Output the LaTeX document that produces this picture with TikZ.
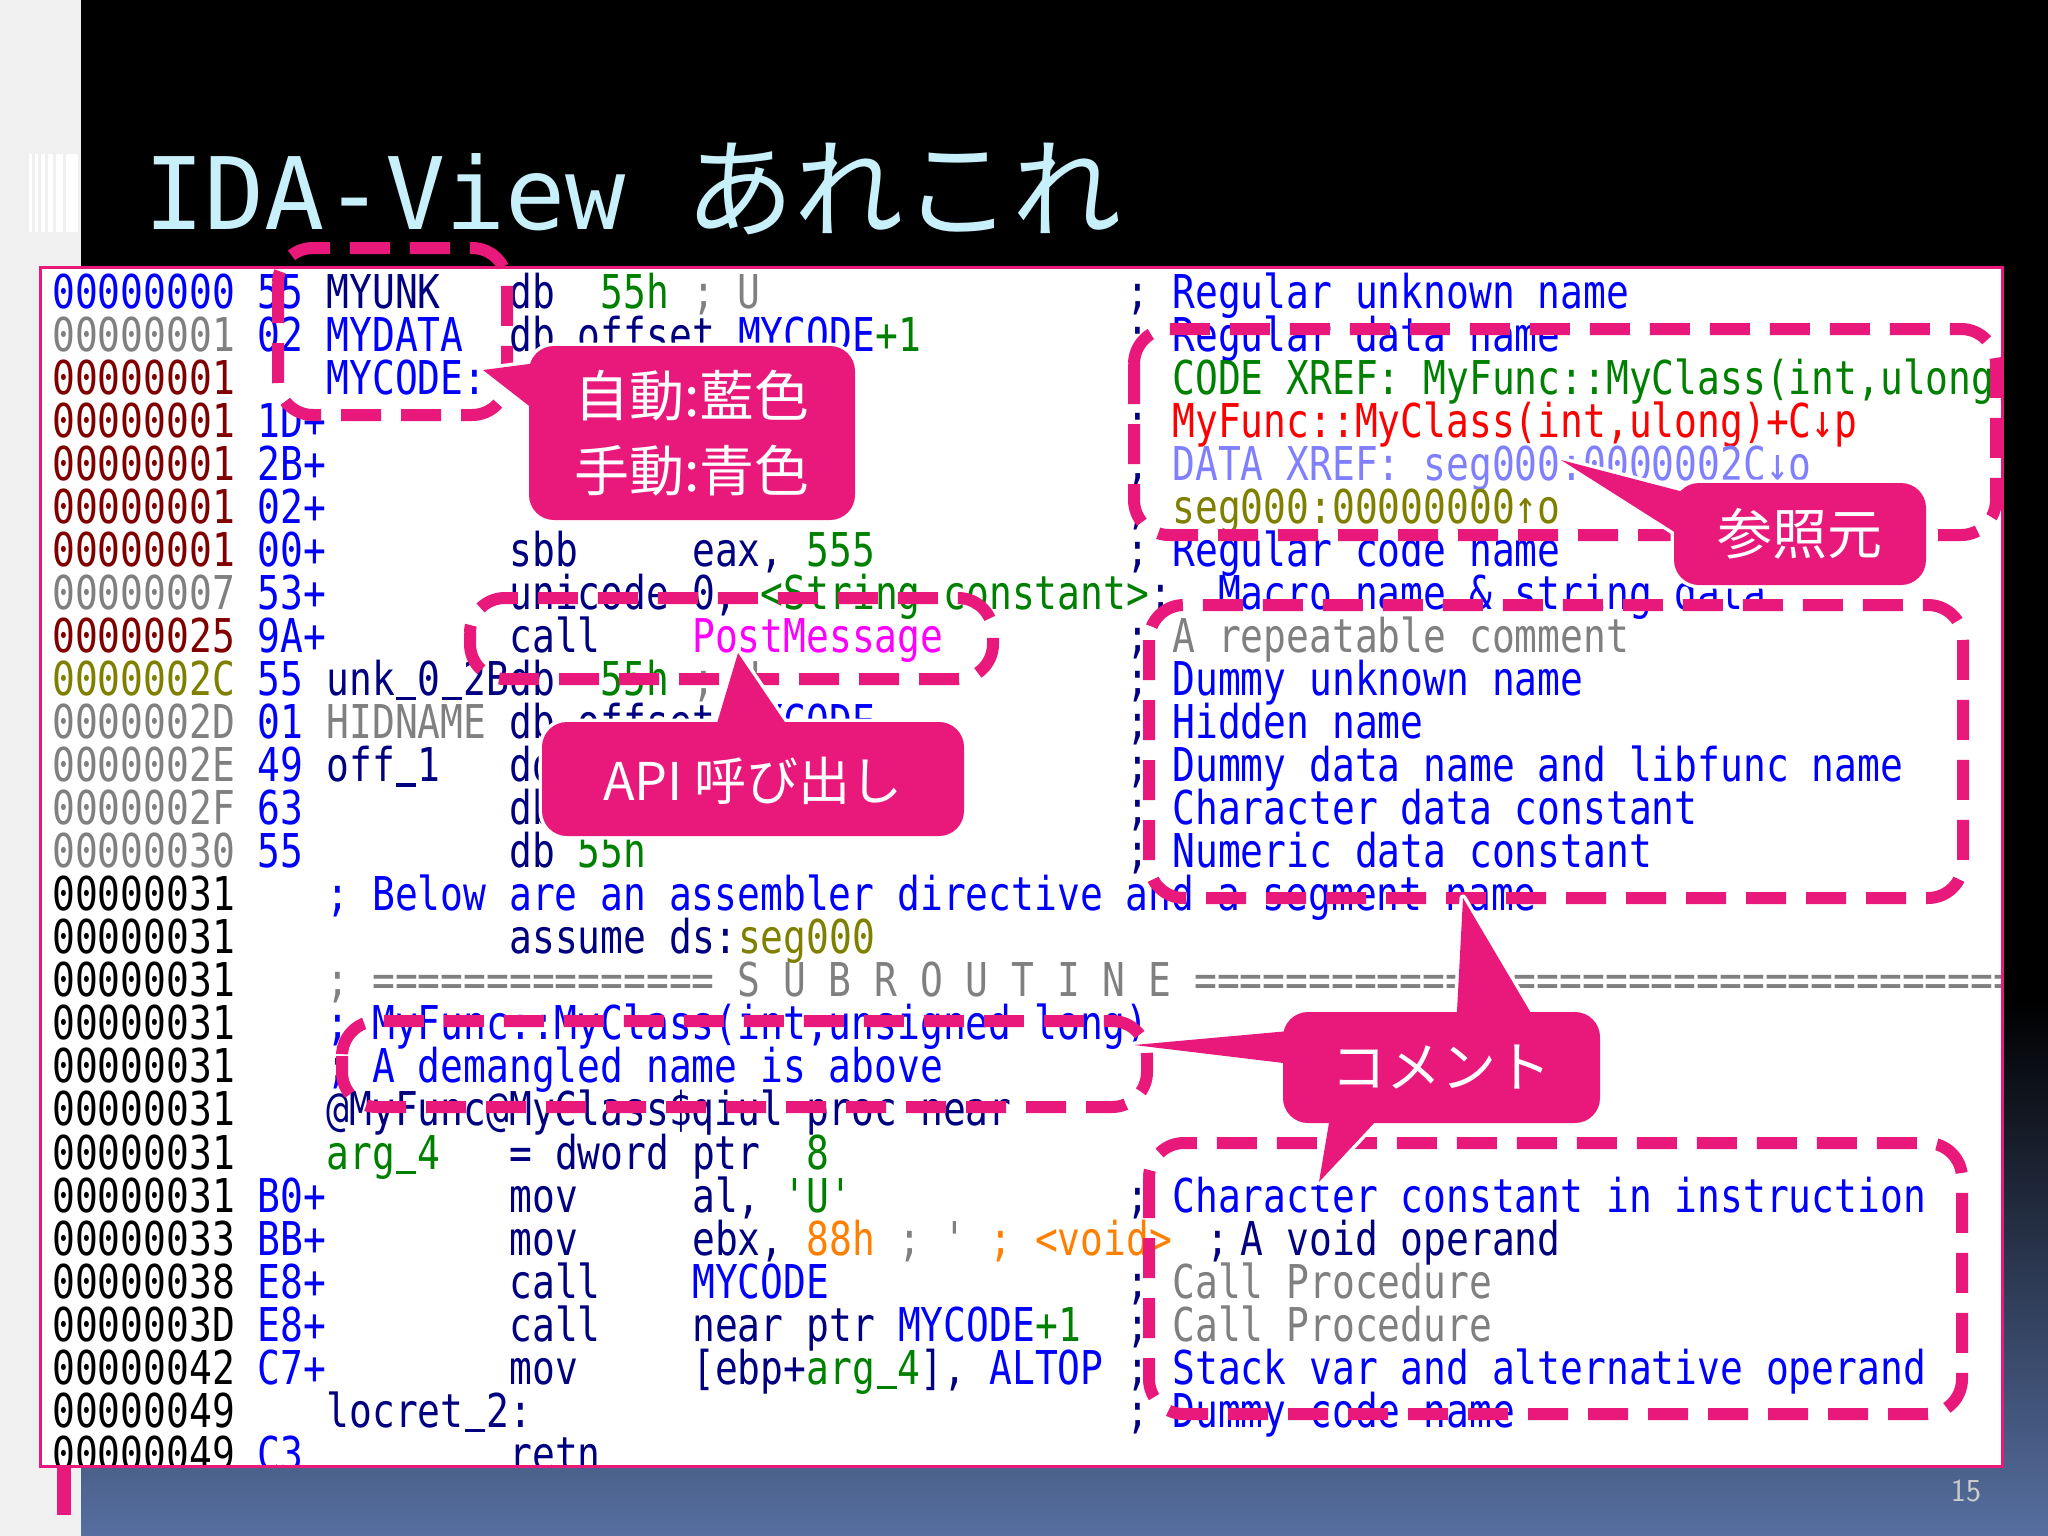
\documentclass[tikz,border=0pt]{standalone}
\usepackage{fontspec}
\newfontfamily\codefont[FakeStretch=0.814]{DejaVu Sans Mono}
\newfontfamily\monof{DejaVu Sans Mono}
\newfontfamily\jpf{Noto Sans CJK JP}
\definecolor{pk}{HTML}{E8197A}
\definecolor{ttl}{HTML}{C8F0FA}
\definecolor{cnavy}{HTML}{000080}
\definecolor{cblue}{HTML}{0000FF}
\definecolor{cgray}{HTML}{808080}
\definecolor{cred}{HTML}{800000}
\definecolor{colive}{HTML}{808000}
\definecolor{cgreen}{HTML}{008000}
\definecolor{cmag}{HTML}{FF00FF}
\definecolor{corange}{HTML}{FF8000}
\definecolor{cbred}{HTML}{FF0000}
\definecolor{cpurp}{HTML}{8080FF}
\definecolor{slate}{HTML}{566FA0}
\tikzset{
  code/.style={inner sep=0pt,anchor=base west,font=\codefont\fontsize{46.6}{50}\selectfont},
  dbox/.style={draw=pk,line width=12pt,dash pattern=on 40pt off 20pt,rounded corners=35pt},
  ctext/.style={text=white,font=\jpf\fontsize{55}{75}\selectfont,align=center,inner sep=0pt},
  coutl/.style={draw=white,line width=7pt,line join=round},
  cfill/.style={fill=pk}
}
\newcommand\cl[4]{\node[code,text=#3] at ({52+#1*22.86},{308+#2*43.05}) {#4};}
\newcommand\ap{\symbol{39}}
\newcommand\us{\makebox[22.86pt]{\rule[-5pt]{20pt}{3.5pt}}}
\begin{document}
\begin{tikzpicture}[x=1pt,y=-1pt]
\useasboundingbox (0,0) rectangle (2048,1536);
\fill[black] (0,0) rectangle (2048,1536);
\shade[top color=black,bottom color=slate] (0,1000) rectangle (2048,1536);
\fill[white!94!black] (0,0) rectangle (81,1536);
% icon
\foreach \x/\w in {29/3,35/3,41/4,48/5,56/7,66/12}{\fill[white] (\x,154) rectangle ({\x+\w},232);}
% title
\node[inner sep=0pt,anchor=base west,text=ttl] (title) at (144,229)
  {{\monof\fontsize{100}{100}\selectfont IDA-View}\hspace{60pt}{\jpf\fontsize{109}{109}\selectfont あれこれ}};
% panel
\node[draw=pk,line width=2.5pt,fill=white,minimum width=1962pt,minimum height=1199pt,anchor=north west,inner sep=0pt] (panel) at (39,266) {};
\fill[pk] (57,1465) rectangle (71,1515);
\node[text=white!80!black,font=\sffamily\fontsize{32}{32}\selectfont] (pnum) at (1966,1491) {15};
\begin{scope}
\clip (40,267) rectangle (2000,1464);
% addresses
\foreach \r/\a/\c in {0/00000000/cblue,1/00000001/cgray,2/00000001/cred,3/00000001/cred,4/00000001/cred,5/00000001/cred,6/00000001/cred,7/00000007/cgray,8/00000025/cred,9/0000002C/colive,10/0000002D/cgray,11/0000002E/cgray,12/0000002F/cgray,13/00000030/cgray,14/00000031/black,15/00000031/black,16/00000031/black,17/00000031/black,18/00000031/black,19/00000031/black,20/00000031/black,21/00000031/black,22/00000033/black,23/00000038/black,24/0000003D/black,25/00000042/black,26/00000049/black,27/00000049/black}{\cl{0}{\r}{\c}{\a}}
% bytes
\foreach \r/\b in {0/55,1/02,3/1D+,4/2B+,5/02+,6/00+,7/53+,8/9A+,9/55,10/01,11/49,12/63,13/55,21/B0+,22/BB+,23/E8+,24/E8+,25/C7+,27/C3}{\cl{9}{\r}{cblue}{\b}}
% right semicolons
\foreach \r in {0,1,2,3,4,5,6,8,9,10,11,12,13,21,23,24,25,26}{\cl{47}{\r}{cnavy}{;}}
\cl{48}{7}{cnavy}{;}
% row 0
\cl{12}{0}{cnavy}{MYUNK}\cl{20}{0}{cnavy}{db}\cl{24}{0}{cgreen}{55h}\cl{28}{0}{cgray}{; U}
\cl{49}{0}{cblue}{Regular unknown name}
% row 1
\cl{12}{1}{cblue}{MYDATA}\cl{20}{1}{cnavy}{db offset}\cl{30}{1}{cblue}{MYCODE}\cl{36}{1}{cgreen}{+1}
\cl{49}{1}{cblue}{Regular data name}
% row 2
\cl{12}{2}{cblue}{MYCODE:}\cl{49}{2}{cgreen}{CODE XREF: MyFunc::MyClass(int,ulong)+C↓p}
\cl{49}{3}{cbred}{MyFunc::MyClass(int,ulong)+C↓p}
\cl{49}{4}{cpurp}{DATA XREF: seg000:0000002C↓o}
\cl{49}{5}{colive}{seg000:00000000↑o}
% row 6
\cl{20}{6}{cnavy}{sbb}\cl{28}{6}{cnavy}{eax,}\cl{33}{6}{cgreen}{555}\cl{49}{6}{cblue}{Regular code name}
% row 7
\cl{20}{7}{cnavy}{unicode 0,}\cl{31}{7}{cgreen}{<String constant>}\cl{51}{7}{cblue}{Macro name \& string data}
% row 8
\cl{20}{8}{cnavy}{call}\cl{28}{8}{cmag}{PostMessage}\cl{49}{8}{cgray}{A repeatable comment}
% row 9
\cl{12}{9}{cnavy}{unk\us 0\us 2B}\cl{20}{9}{cnavy}{db}\cl{24}{9}{cgreen}{55h}\cl{28}{9}{cgray}{; U}\cl{49}{9}{cblue}{Dummy unknown name}
% row 10
\cl{12}{10}{cgray}{HIDNAME}\cl{20}{10}{cnavy}{db offset}\cl{30}{10}{cblue}{MYCODE}\cl{49}{10}{cblue}{Hidden name}
\cl{12}{11}{cnavy}{off\us 1}\cl{20}{11}{cnavy}{dd}\cl{49}{11}{cblue}{Dummy data name and libfunc name}
\cl{20}{12}{cnavy}{db}\cl{49}{12}{cblue}{Character data constant}
\cl{20}{13}{cnavy}{db}\cl{23}{13}{cgreen}{55h}\cl{49}{13}{cblue}{Numeric data constant}
% rows 14-20
\cl{12}{14}{cblue}{; Below are an assembler directive and a segment name}
\cl{20}{15}{cnavy}{assume ds:}\cl{30}{15}{colive}{seg000}
\cl{12}{16}{cgray}{; =============== S U B R O U T I N E ========================================}
\cl{12}{17}{cblue}{; MyFunc::MyClass(int,unsigned long)}
\cl{12}{18}{cblue}{; A demangled name is above}
\cl{12}{19}{cnavy}{@MyFunc@MyClass\$qiul proc near}
\cl{12}{20}{cgreen}{arg\us 4}\cl{20}{20}{cnavy}{= dword ptr}\cl{33}{20}{cgreen}{8}
% row 21
\cl{20}{21}{cnavy}{mov}\cl{28}{21}{cnavy}{al,}\cl{32}{21}{cgreen}{\ap U\ap}\cl{49}{21}{cblue}{Character constant in instruction}
% row 22
\cl{20}{22}{cnavy}{mov}\cl{28}{22}{cnavy}{ebx,}\cl{33}{22}{corange}{88h}\cl{37}{22}{cgray}{; \ap}\cl{41}{22}{corange}{; <void>}
\cl{50.5}{22}{cnavy}{;}\cl{52}{22}{cnavy}{A void operand}
% rows 23-27
\cl{20}{23}{cnavy}{call}\cl{28}{23}{cblue}{MYCODE}\cl{49}{23}{cgray}{Call Procedure}
\cl{20}{24}{cnavy}{call}\cl{28}{24}{cnavy}{near ptr}\cl{37}{24}{cblue}{MYCODE}\cl{43}{24}{cgreen}{+1}\cl{49}{24}{cgray}{Call Procedure}
\cl{20}{25}{cnavy}{mov}\cl{28}{25}{cnavy}{[ebp+}\cl{33}{25}{cgreen}{arg\us 4}\cl{38}{25}{cnavy}{],}\cl{41}{25}{cblue}{ALTOP}\cl{49}{25}{cblue}{Stack var and alternative operand}
\cl{12}{26}{cnavy}{locret\us 2:}\cl{49}{26}{cblue}{Dummy code name}
\cl{20}{27}{cnavy}{retn}
\end{scope}
% dashed boxes
\draw[dbox] (278,248) rectangle (507,415);
\draw[dbox] (470,598) rectangle (993,679);
\draw[dbox] (1134,329) rectangle (1996,535);
\draw[dbox] (1149,605) rectangle (1963,898);
\draw[dbox] (342,1021) rectangle (1147,1107);
\draw[dbox] (1149,1143) rectangle (1962,1414);
% callout outlines
\path[coutl] (483,370) -- (560,360) -- (560,430) -- cycle;
\path[coutl,rounded corners=25pt] (529,346) rectangle (855,520);
\path[coutl] (738,653) -- (712,740) -- (797,740) -- cycle;
\path[coutl,rounded corners=25pt] (542,722) rectangle (964,836);
\path[coutl] (1561,460) -- (1695,495) -- (1695,545) -- cycle;
\path[coutl,rounded corners=25pt] (1674,483) rectangle (1926,585);
\path[coutl] (1463,898) -- (1456,1030) -- (1541,1030) -- cycle;
\path[coutl] (1134,1045) -- (1300,1030) -- (1300,1065) -- cycle;
\path[coutl] (1319,1182) -- (1332,1105) -- (1391,1105) -- cycle;
\path[coutl,rounded corners=25pt] (1283,1012) rectangle (1600,1123);
% callout fills
\fill[pk] (483,370) -- (560,360) -- (560,430) -- cycle;
\fill[pk,rounded corners=25pt] (529,346) rectangle (855,520);
\fill[pk] (738,653) -- (712,740) -- (797,740) -- cycle;
\fill[pk,rounded corners=25pt] (542,722) rectangle (964,836);
\fill[pk] (1561,460) -- (1695,495) -- (1695,545) -- cycle;
\fill[pk,rounded corners=25pt] (1674,483) rectangle (1926,585);
\fill[pk] (1463,898) -- (1456,1030) -- (1541,1030) -- cycle;
\fill[pk] (1134,1045) -- (1300,1030) -- (1300,1065) -- cycle;
\fill[pk] (1319,1182) -- (1332,1105) -- (1391,1105) -- cycle;
\fill[pk,rounded corners=25pt] (1283,1012) rectangle (1600,1123);
% callout texts
\node[ctext] (c1) at (692,433) {自動:藍色\\手動:青色};
\node[ctext,font=\jpf\fontsize{52}{60}\selectfont] (c2) at (753,781) {API 呼び出し};
\node[ctext] (c3) at (1800,534) {参照元};
\node[ctext] (c4) at (1441,1067) {コメント};
\end{tikzpicture}
\end{document}
